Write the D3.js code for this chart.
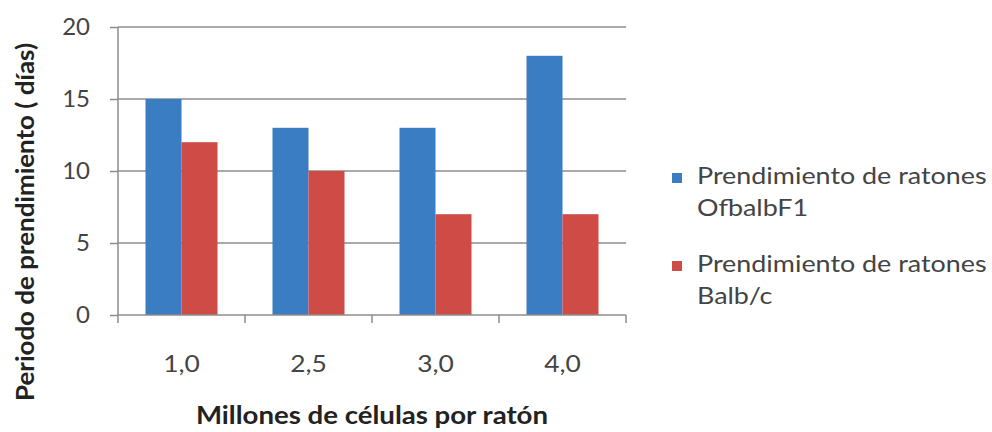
<!DOCTYPE html>
<html>
<head>
<meta charset="utf-8">
<script src="https://cdn.jsdelivr.net/npm/d3@7"></script>
<style>
  body { margin: 0; background: #fff; }
  text { font-family: Lato, "Open Sans", sans-serif; }
</style>
</head>
<body>
<div id="chart"></div>
<script>
// Chart data
var categories = ["1,0", "2,5", "3,0", "4,0"];
var seriesNames = ["Prendimiento de ratones OfbalbF1", "Prendimiento de ratones Balb/c"];
var legendLines = [["Prendimiento de ratones", "OfbalbF1"], ["Prendimiento de ratones", "Balb/c"]];
var ofbalbValues = [15, 13, 13, 18];
var balbcValues = [12, 10, 7, 7];
var yTicks = [0, 5, 10, 15, 20];
var colors = ["#3a7dc2", "#cf4b46"];

var width = 992, height = 432;
var margin = {top: 27, right: 366, bottom: 117, left: 118};
var w = width - margin.left - margin.right,
    h = height - margin.top - margin.bottom;

// the original text is a little wider than Lato, stretch it sideways
function stretch(sel, k) {
    sel.each(function() {
        var len = this.getComputedTextLength();
        d3.select(this).attr("textLength", len * k).attr("lengthAdjust", "spacingAndGlyphs");
    });
}

var svg = d3.select("#chart").append("svg")
    .attr("width", width)
    .attr("height", height);

var g = svg.append("g")
    .attr("transform", "translate(" + margin.left + "," + margin.top + ")");

var x = d3.scaleBand().domain(categories).range([0, w]).paddingInner(0).paddingOuter(0);
var xInner = d3.scaleBand().domain([0, 1]).range([0, 72]);
var y = d3.scaleLinear().domain([0, 20]).range([h, 0]);

// Grid lines
g.selectAll(".grid").data(yTicks.filter(function(d) { return d > 0; }))
  .enter().append("line")
    .attr("x1", 0).attr("x2", w)
    .attr("y1", function(d) { return y(d); })
    .attr("y2", function(d) { return y(d); })
    .attr("stroke", "#8c8c8c").attr("stroke-width", 1.5);

// Bars
var rows = categories.map(function(c, i) { return [ofbalbValues[i], balbcValues[i]]; });
var groups = g.selectAll(".grp").data(rows).enter().append("g")
    .attr("transform", function(d, i) {
        return "translate(" + (x(categories[i]) + (x.bandwidth() - 72) / 2) + ",0)";
    });
groups.selectAll("rect").data(function(d) { return d; }).enter().append("rect")
    .attr("x", function(d, j) { return xInner(j); })
    .attr("width", xInner.bandwidth())
    .attr("y", function(d) { return y(d); })
    .attr("height", function(d) { return h - y(d); })
    .attr("fill", function(d, j) { return colors[j]; });

// Y axis
var yAxis = d3.axisLeft(y).tickValues(yTicks).tickSize(8).tickPadding(20);
var ya = g.append("g").call(yAxis);
ya.select(".domain").attr("stroke", "#8c8c8c").attr("stroke-width", 1.5).attr("d", "M0,0V" + h);
ya.selectAll(".tick line").attr("stroke", "#8c8c8c").attr("stroke-width", 1.5);
ya.selectAll("text").attr("font-size", 24).attr("fill", "#444").attr("font-family", "Lato");

// X axis
var xa = g.append("g").attr("transform", "translate(0," + h + ")")
    .call(d3.axisBottom(x).tickSize(0).tickPadding(40));
xa.select(".domain").attr("stroke", "#8c8c8c").attr("stroke-width", 1.5).attr("d", "M0,0H" + w);
xa.selectAll("text").attr("font-size", 24).attr("fill", "#444").attr("font-family", "Lato")
    .call(stretch, 1.1);
g.selectAll(".xtick").data(d3.range(categories.length + 1)).enter().append("line")
    .attr("x1", function(i) { return i * x.bandwidth(); })
    .attr("x2", function(i) { return i * x.bandwidth(); })
    .attr("y1", h).attr("y2", h + 8)
    .attr("stroke", "#8c8c8c").attr("stroke-width", 1.5);

// Axis titles
svg.append("text")
    .attr("x", margin.left + w / 2).attr("y", 424)
    .attr("text-anchor", "middle")
    .attr("font-size", 24).attr("font-weight", "bold").attr("fill", "#222")
    .text("Millones de células por ratón")
    .call(stretch, 1.15);

svg.append("text")
    .attr("transform", "translate(34,222) rotate(-90)")
    .attr("text-anchor", "middle")
    .attr("font-size", 24).attr("font-weight", "bold").attr("fill", "#222")
    .text("Periodo de prendimiento  ( días)")
    .call(stretch, 1.08);

// Legend
var legend = svg.append("g").attr("transform", "translate(672,173)");
var items = legend.selectAll(".item").data(seriesNames).enter().append("g")
    .attr("transform", function(d, i) { return "translate(0," + (i * 88) + ")"; });
items.append("rect").attr("width", 10).attr("height", 10)
    .attr("fill", function(d, i) { return colors[i]; });
items.append("text")
    .attr("x", 25).attr("y", 11)
    .attr("font-size", 24).attr("fill", "#444")
    .selectAll("tspan").data(function(d, i) { return legendLines[i]; })
    .enter().append("tspan")
      .attr("x", 25)
      .attr("dy", function(d, k) { return k === 0 ? 0 : 32; })
      .text(function(d) { return d; })
      .call(stretch, 1.12);
</script>
</body>
</html>
